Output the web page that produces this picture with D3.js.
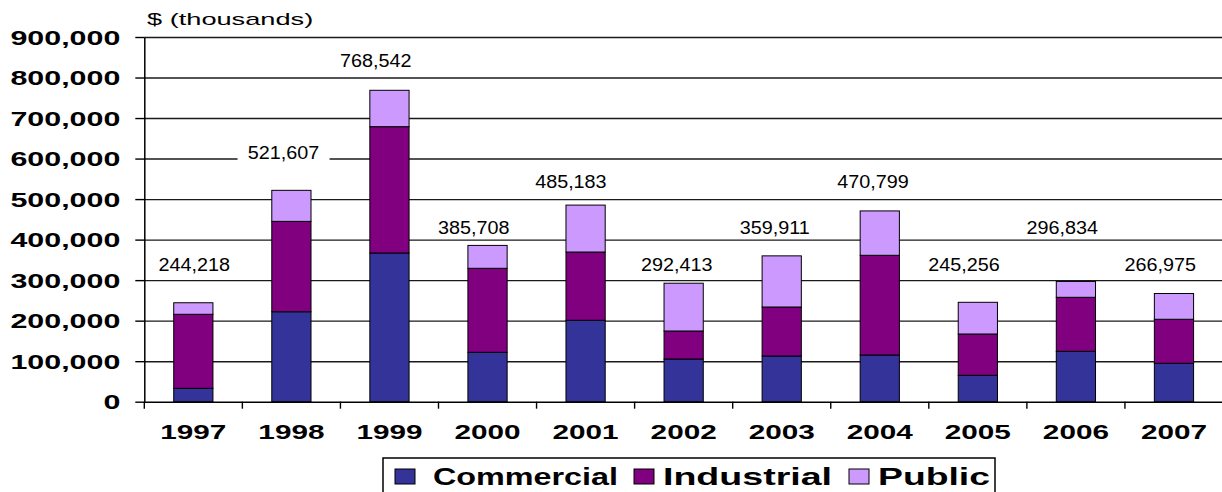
<!DOCTYPE html>
<html><head><meta charset="utf-8">
<script src="https://cdn.jsdelivr.net/npm/d3@7"></script>
<style>
body{margin:0;background:#fff}
svg{display:block}
text{font-family:"Liberation Sans",Arial,sans-serif;fill:#000}
</style></head>
<body><svg id="c" width="1222" height="492"></svg>
<script>
// ---- data ($ thousands) ----
const years = ["1997","1998","1999","2000","2001","2002","2003","2004","2005","2006","2007"];
const commercial = [33000,222000,367000,121900,200900,105400,112800,115300,65100,124400,94800];
const industrial = [182700,223000,311700,207300,168500,69100,120900,246000,102000,133200,108600];
const publicWorks = [28500,76600,89800,56500,115800,117900,126200,109500,78200,39200,63600];
const totalLabels = ["244,218","521,607","768,542","385,708","485,183","292,413","359,911","470,799","245,256","296,834","266,975"];
// where each total annotation sits (value level) and its sideways shift (fraction of a category)
const labelLevel = [340000,616000,843000,431000,545000,339000,431000,545000,340000,431000,340000];
const labelShift = [0.01,-0.08,-0.14,-0.14,-0.15,-0.07,-0.07,-0.07,-0.14,-0.14,-0.14];
const yTicks = [0,100000,200000,300000,400000,500000,600000,700000,800000,900000];
const seriesNames = ["Commercial","Industrial","Public"];
const seriesColors = ["#333399","#800080","#CC99FF"];
const axisTitle = "$ (thousands)";

// ---- layout ----
const X0 = 144.3, X1 = 1223, Y0 = 401.7, Y1 = 37;
const svg = d3.select("#c");

const x = d3.scaleBand().domain(years).range([X0, X1]).padding(0);
const y = d3.scaleLinear().domain([0, 900000]).range([Y0, Y1]);

function stretch(sel, sx){
  sel.each(function(){
    const t = d3.select(this);
    const tx = +t.attr("x") || 0, ty = +t.attr("y") || 0;
    t.attr("x", 0).attr("y", 0).attr("transform", `translate(${tx},${ty}) scale(${sx},1)`);
  });
}

// gridlines
const grid = svg.append("g").attr("transform", `translate(${X0},0)`)
  .call(d3.axisLeft(y).tickValues(yTicks.slice(1)).tickSize(-(X1 - X0)).tickFormat(""));
grid.select(".domain").remove();
grid.selectAll("line").attr("stroke", "#1a1a1a").attr("stroke-width", 1.4);

// total label positions + white backgrounds (cover gridlines)
const labelPos = (d, i) => `translate(${x(d) + x.bandwidth() / 2 + labelShift[i] * x.step()},${y(labelLevel[i])})`;
svg.append("g").selectAll("rect").data(years).join("rect")
  .attr("transform", labelPos)
  .attr("x", -46).attr("y", -11).attr("width", 92).attr("height", 22).attr("fill", "#fff");

// stacked bars
const rows = years.map((yr, i) => ({year: yr, Commercial: commercial[i], Industrial: industrial[i], Public: publicWorks[i]}));
const stacked = d3.stack().keys(seriesNames)(rows);
const bw = x.bandwidth() * 0.4;
svg.append("g").selectAll("g").data(stacked).join("g")
  .attr("fill", (d, i) => seriesColors[i])
  .selectAll("rect").data(d => d).join("rect")
  .attr("x", d => x(d.data.year) + (x.bandwidth() - bw) / 2)
  .attr("width", bw)
  .attr("y", d => y(d[1]))
  .attr("height", d => y(d[0]) - y(d[1]))
  .attr("stroke", "#000").attr("stroke-width", 1);

// y axis
const yAx = svg.append("g").attr("transform", `translate(${X0},0)`)
  .call(d3.axisLeft(y).tickValues(yTicks).tickFormat(d3.format(",")).tickSize(9).tickPadding(15).tickSizeOuter(0));
yAx.select(".domain").attr("stroke", "#000").attr("stroke-width", 1.5);
yAx.selectAll("line").attr("stroke", "#000").attr("stroke-width", 1.4);
yAx.selectAll("text").attr("font-family", "Liberation Sans, Arial, sans-serif")
  .attr("font-size", 20).attr("font-weight", "bold").attr("dy", "0.36em").attr("fill", "#000");
stretch(yAx.selectAll("text"), 1.52);

// x axis
const xAx = svg.append("g").attr("transform", `translate(0,${Y0})`)
  .call(d3.axisBottom(x).tickSize(0).tickPadding(0));
xAx.select(".domain").attr("stroke", "#000").attr("stroke-width", 1.5);
xAx.selectAll("text").attr("font-family", "Liberation Sans, Arial, sans-serif")
  .attr("font-size", 20.5).attr("font-weight", "bold").attr("y", 37).attr("dy", null).attr("fill", "#000");
stretch(xAx.selectAll("text"), 1.45);
xAx.append("g").selectAll("line").data(years.concat(["end"])).join("line")
  .attr("x1", d => d === "end" ? X1 : x(d)).attr("x2", d => d === "end" ? X1 : x(d))
  .attr("y1", 0).attr("y2", 7).attr("stroke", "#000").attr("stroke-width", 1.4);

// axis title
const tt = svg.append("text").attr("x", 147).attr("y", 25).attr("font-size", 16).text(axisTitle);
stretch(tt, 1.7);

// total label texts
svg.append("g").selectAll("text").data(years).join("text")
  .attr("transform", (d, i) => labelPos(d, i) + " scale(1.07,1)")
  .attr("text-anchor", "middle").attr("dy", "0.36em").attr("font-size", 18.5)
  .text((d, i) => totalLabels[i]);

// legend
const legX = [395, 634, 849];
const legW = [185, 169, 112];
svg.append("rect").attr("x", 383).attr("y", 458).attr("width", 612).attr("height", 40)
  .attr("fill", "#fff").attr("stroke", "#000").attr("stroke-width", 1.5);
const li = svg.append("g").selectAll("g").data(seriesNames).join("g")
  .attr("transform", (d, i) => `translate(${legX[i]},469)`);
li.append("rect").attr("width", 20).attr("height", 15)
  .attr("fill", (d, i) => seriesColors[i]).attr("stroke", "#000").attr("stroke-width", 1);
li.append("text").attr("x", (d, i) => i === 0 ? 38 : 29).attr("y", 16).attr("font-size", 23).attr("font-weight", "bold")
  .attr("textLength", (d, i) => legW[i]).attr("lengthAdjust", "spacingAndGlyphs").text(d => d);
</script>
</body></html>
